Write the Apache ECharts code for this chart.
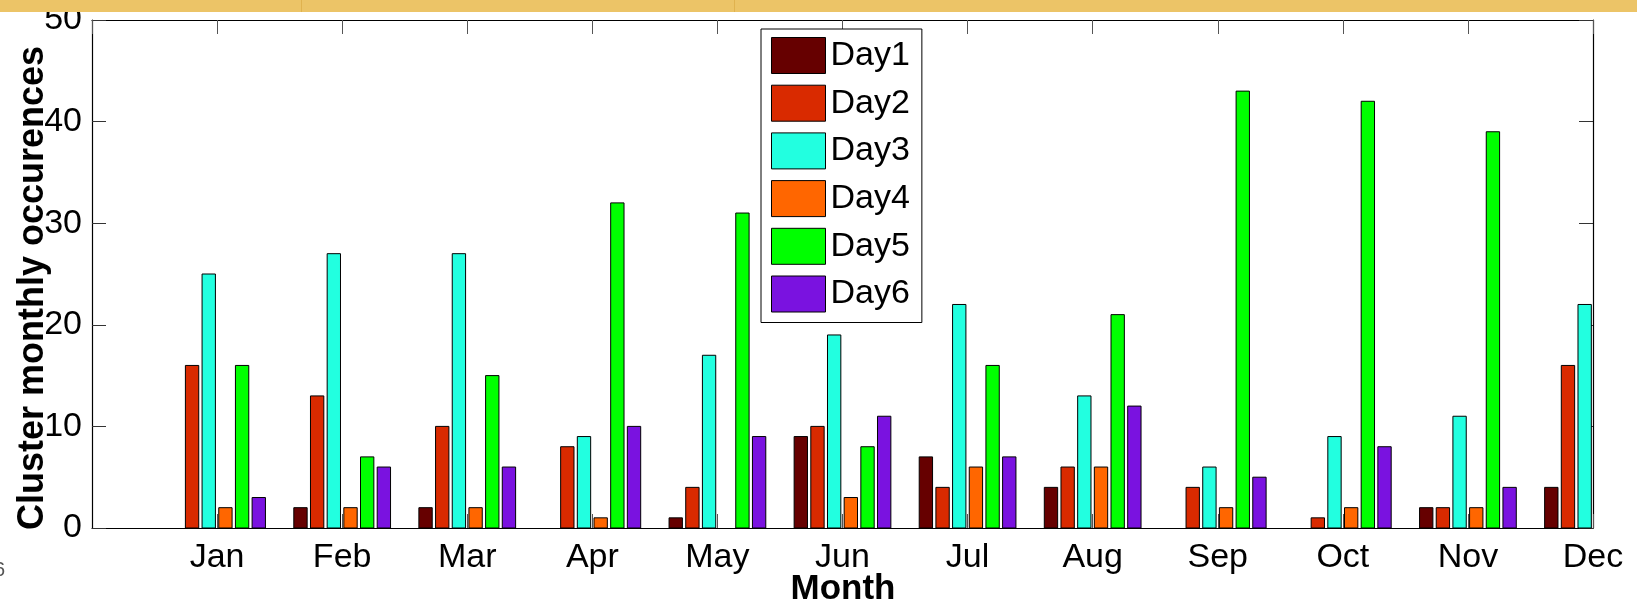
<!DOCTYPE html>
<html>
<head>
<meta charset="utf-8">
<script src="https://cdn.jsdelivr.net/npm/echarts@6/dist/echarts.min.js"></script>
<style>
  html, body { margin: 0; padding: 0; background: #fff; }
  #chart { width: 1637px; height: 600px; }
</style>
</head>
<body>
<div id="chart"></div>
<script>
// Monthly occurrences of each cluster day
const months = ['Jan', 'Feb', 'Mar', 'Apr', 'May', 'Jun', 'Jul', 'Aug', 'Sep', 'Oct', 'Nov', 'Dec'];
const dayNames = ['Day1', 'Day2', 'Day3', 'Day4', 'Day5', 'Day6'];
const day1 = [0, 2, 2, 0, 1, 9, 7, 4, 0, 0, 2, 4];
const day2 = [16, 13, 10, 8, 4, 10, 4, 6, 4, 1, 2, 16];
const day3 = [25, 27, 27, 9, 17, 19, 22, 13, 6, 9, 11, 22];
const day4 = [2, 2, 2, 1, 0, 3, 6, 6, 2, 2, 2, null];
const day5 = [16, 7, 15, 32, 31, 8, 16, 21, 43, 42, 39, null];
const day6 = [3, 6, 6, 10, 9, 11, 7, 12, 5, 8, 4, null];
const yTicks = [0, 10, 20, 30, 40, 50];

const dayValues = [day1, day2, day3, day4, day5, day6];
const dayColors = ['#660000', '#D92A00', '#22FFE0', '#FF6600', '#00FF00', '#7A12E0'];
const FONT = '"Liberation Sans", Arial, Helvetica, sans-serif';

// grouped bar layout: 6 bars share 0.8 of a month slot, each bar 0.8 of its pitch
function barRenderer(k) {
  return function (params, api) {
    const m = api.value(0);
    const v = api.value(1);
    if (v == null || isNaN(v) || v <= 0) return;
    const slot = api.size([1, 0])[0];
    const pitch = slot * 0.8 / dayNames.length;
    const w = pitch * 0.8;
    const base = api.coord([m, 0]);
    const top = api.coord([m, v]);
    const cx = base[0] + (k - (dayNames.length - 1) / 2) * pitch;
    const cs = params.coordSys;
    const rect = echarts.graphic.clipRectByRect(
      { x: cx - w / 2, y: top[1], width: w, height: base[1] - top[1] },
      { x: cs.x, y: cs.y, width: cs.width, height: cs.height + 1 }
    );
    if (!rect) return;
    return {
      type: 'rect',
      shape: rect,
      style: { fill: api.visual('color'), stroke: '#000', lineWidth: 1 }
    };
  };
}

const series = dayNames.map((name, k) => ({
  name: name,
  type: 'custom',
  renderItem: barRenderer(k),
  itemStyle: { color: dayColors[k] },
  encode: { x: 0, y: 1 },
  data: months.map((_, i) => [i + 1, dayValues[k][i]]),
  z: 3
}));

const tickStyle = { color: '#333', width: 1 };

const option = {
  animation: false,
  backgroundColor: '#fff',
  grid: { left: 92, right: 44, top: 20, bottom: 72 },
  xAxis: [
    {
      type: 'value', min: 0, max: months.length, interval: 1, position: 'bottom',
      axisLine: { show: true, onZero: false, lineStyle: { color: '#000', width: 1.2 } },
      axisTick: { show: true, inside: true, length: 14, lineStyle: { color: '#555', width: 1 } },
      axisLabel: {
        show: true, margin: 13, fontSize: 34, lineHeight: 34, color: '#000', fontFamily: FONT,
        showMinLabel: false, showMaxLabel: true,
        formatter: v => months[v - 1] || ''
      },
      splitLine: { show: false }
    },
    {
      type: 'value', min: 0, max: months.length, interval: 1, position: 'top',
      axisLine: { show: true, onZero: false, lineStyle: { color: '#000', width: 1.2 } },
      axisTick: { show: true, inside: true, length: 14, lineStyle: { color: '#555', width: 1 } },
      axisLabel: { show: false },
      splitLine: { show: false }
    }
  ],
  yAxis: [
    {
      type: 'value', min: yTicks[0], max: yTicks[yTicks.length - 1], interval: yTicks[1] - yTicks[0],
      position: 'left',
      axisLine: { show: true, onZero: false, lineStyle: { color: '#000', width: 1.2 } },
      axisTick: { show: true, inside: true, length: 14, lineStyle: tickStyle },
      axisLabel: { show: true, margin: 10, fontSize: 34, color: '#000', fontFamily: FONT },
      splitLine: { show: false }
    },
    {
      type: 'value', min: yTicks[0], max: yTicks[yTicks.length - 1], interval: yTicks[1] - yTicks[0],
      position: 'right',
      axisLine: { show: true, onZero: false, lineStyle: { color: '#000', width: 1.2 } },
      axisTick: { show: true, inside: true, length: 14, lineStyle: tickStyle },
      axisLabel: { show: false },
      splitLine: { show: false }
    }
  ],
  legend: {
    data: dayNames,
    orient: 'vertical',
    left: 761, top: 29,
    itemWidth: 54, itemHeight: 36, itemGap: 10.7,
    icon: 'rect',
    padding: [8, 12, 10, 10],
    borderColor: '#000', borderWidth: 1,
    backgroundColor: '#fff',
    itemStyle: { borderColor: '#000', borderWidth: 1 },
    textStyle: { fontSize: 34, lineHeight: 36, color: '#000', fontFamily: FONT },
    z: 10
  },
  graphic: [
    // header strip across the top
    { type: 'rect', left: 0, top: 0, z: 100, shape: { width: 1637, height: 12 }, style: { fill: '#ECC467' } },
    { type: 'rect', left: 301, top: 0, z: 101, shape: { width: 1, height: 12 }, style: { fill: '#E0B24E' } },
    { type: 'rect', left: 734, top: 0, z: 101, shape: { width: 1, height: 12 }, style: { fill: '#E0B24E' } },
    {
      type: 'text', x: 33, y: 288, rotation: Math.PI / 2, z: 20,
      style: {
        text: 'Cluster monthly occurences', fontSize: 36, fontWeight: 'bold', fontFamily: FONT,
        fill: '#000', align: 'center', verticalAlign: 'middle'
      }
    },
    {
      type: 'text', x: 843, y: 589, z: 20,
      style: {
        text: 'Month', fontSize: 35, fontWeight: 'bold', fontFamily: FONT,
        fill: '#000', align: 'center', verticalAlign: 'middle'
      }
    },
    {
      type: 'text', x: -6, y: 570, z: 20,
      style: { text: '6', fontSize: 20, fontFamily: FONT, fill: '#555', align: 'left', verticalAlign: 'middle' }
    }
  ],
  series: series
};

const chart = echarts.init(document.getElementById('chart'), null, { renderer: 'canvas' });
chart.setOption(option);
</script>
</body>
</html>
